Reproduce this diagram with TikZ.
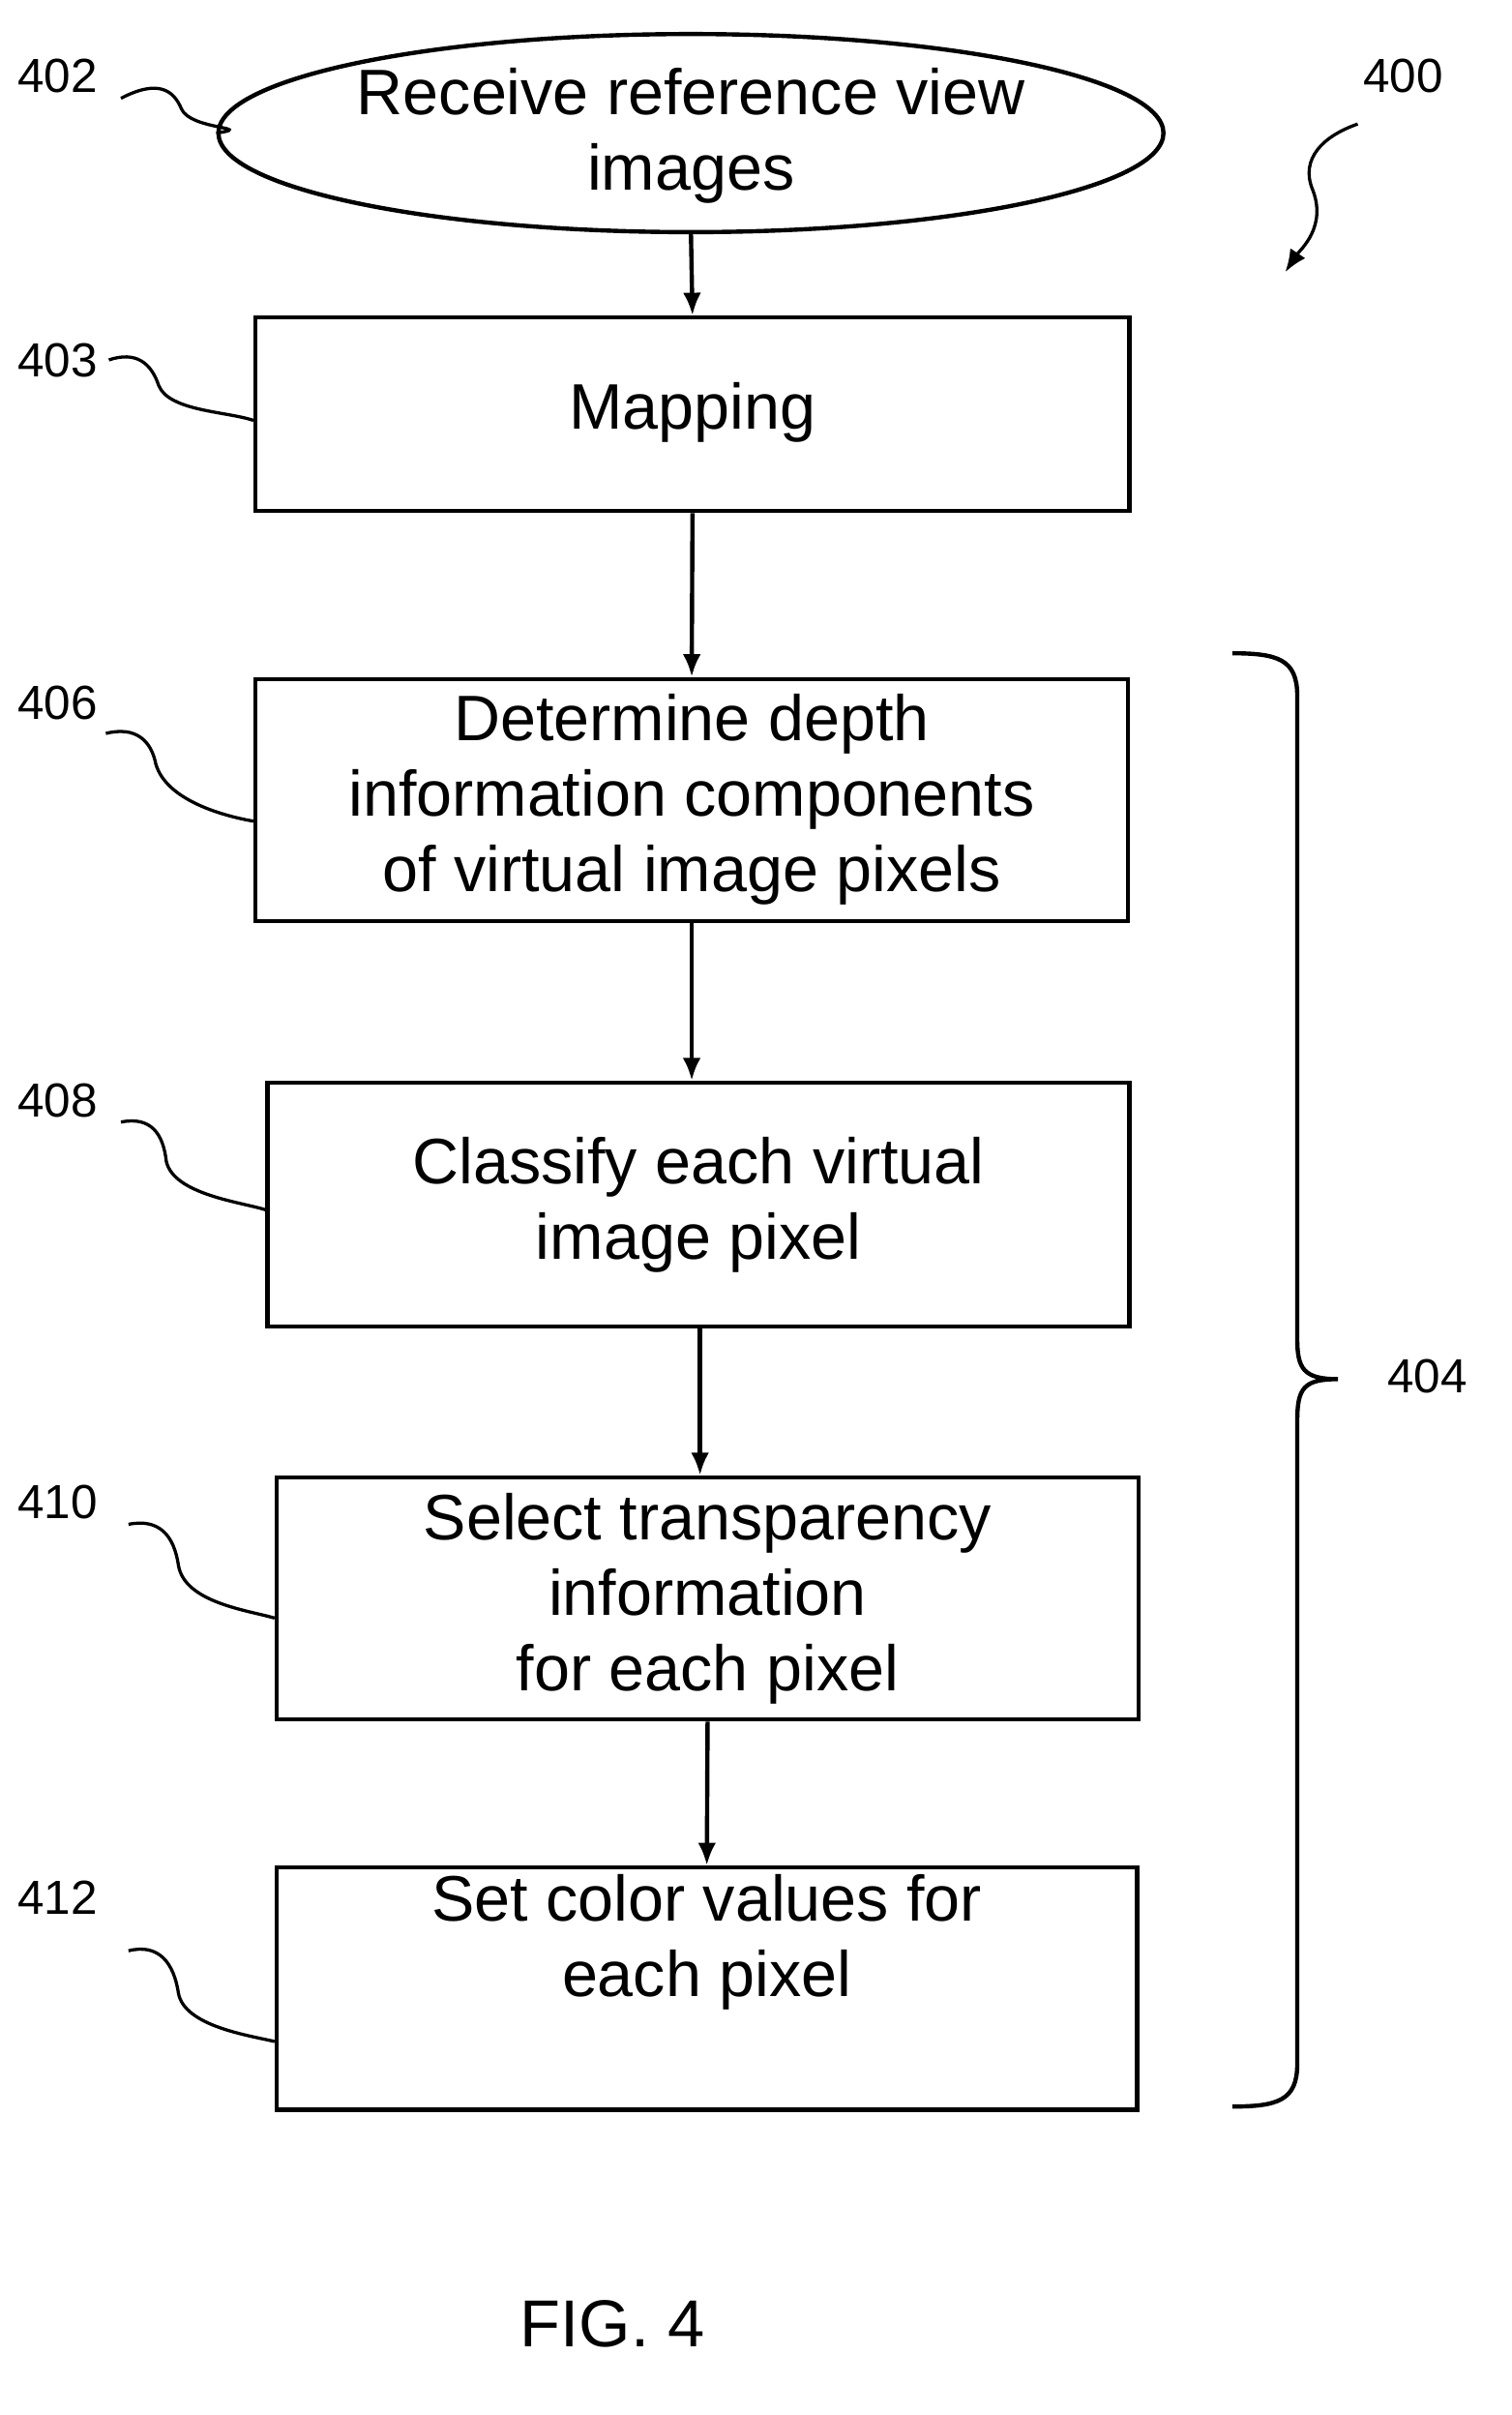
\documentclass[tikz,border=0pt]{standalone}
\usepackage{fontspec}
\setmainfont{Liberation Sans}
\usetikzlibrary{shapes.geometric,arrows.meta}
\begin{document}
\begin{tikzpicture}[x=0.1cm,y=-0.1cm,
 box/.style={draw,line width=8pt,rectangle,align=center,inner sep=0pt,font=\fontsize{121}{142}\selectfont},
 lab/.style={font=\fontsize{90}{100}\selectfont},
 ar/.style={line width=8pt,-{Latex[length=1.5cm,width=1.2cm]}},
 lead/.style={line width=6pt}]
\useasboundingbox (0,0) rectangle (1000,1597);
\node[box,ellipse,minimum width=51.6cm,minimum height=11cm] (e) at (457,88) {\mbox{}\\[-1.6cm]Receive reference view\\images};
\node[box,minimum width=57.8cm,minimum height=12.8cm] (b3) at (458,274) {\mbox{}\\[-2.2cm]Mapping};
\node[box,minimum width=57.7cm,minimum height=16cm] (b6) at (457.5,529) {Determine depth\\information components\\of virtual image pixels};
\node[box,minimum width=57cm,minimum height=16.1cm] (b8) at (462,796.5) {Classify each virtual\\image pixel};
\node[box,minimum width=57cm,minimum height=16cm] (b10) at (468,1057) {Select transparency\\information\\for each pixel};
\node[box,minimum width=56.9cm,minimum height=16cm] (b12) at (467.5,1315) {Set color values for\\each pixel\\[2cm]};
\draw[ar] (e.south) -- (b3.north);
\draw[ar] (b3.south) -- (b6.north);
\draw[ar] (b6.south) -- (b6.south|-b8.north);
\draw[ar] (463,877) coordinate (c1) -- (c1|-b10.north);
\draw[ar] (b10.south) -- (b12.north);
% labels
\node[lab] (l402) at (38,50) {402};
\node[lab] (l403) at (38,238) {403};
\node[lab] (l406) at (38,465) {406};
\node[lab] (l408) at (38,728) {408};
\node[lab] (l410) at (38,993) {410};
\node[lab] (l412) at (38,1255) {412};
\node[lab] (l400) at (928,50) {400};
\node[lab] (l404) at (944,910) {404};
\draw[lead] (80,65) .. controls (105,52) and (115,60) .. (120,72) .. controls (126,86) and (170,84) .. (e.west);
\draw[lead] (72,238) .. controls (90,232) and (100,240) .. (105,255) .. controls (112,272) and (150,272) .. (b3.west|-0,278);
\draw[lead] (70,485) .. controls (90,480) and (100,490) .. (103,505) .. controls (110,530) and (150,540) .. (b6.west|-0,543);
\draw[lead] (80,742) .. controls (100,738) and (108,750) .. (110,768) .. controls (115,790) and (160,795) .. (b8.west|-0,800);
\draw[lead] (85,1008) .. controls (105,1004) and (115,1015) .. (118,1035) .. controls (122,1060) and (165,1065) .. (b10.west|-0,1070);
\draw[lead] (85,1290) .. controls (105,1285) and (115,1298) .. (118,1318) .. controls (122,1340) and (165,1346) .. (b12.west|-0,1350);
\coordinate (t400) at (850,180);
\draw[lead,-{Latex[length=1.5cm,width=1.2cm]}] (898,82) .. controls (875,90) and (860,105) .. (868,125) .. controls (878,150) and (860,165) .. (t400);
% brace
\draw[line width=8pt] (815,432) .. controls (845,432) and (858,436) .. (858,460) -- (858,885) .. controls (858,905) and (862,912) .. (885,912)
 (858,940) .. controls (858,918) and (862,912) .. (885,912)
 (858,940) -- (858,1365) .. controls (858,1389) and (845,1393) .. (815,1393);
\node[font=\fontsize{125}{140}\selectfont] (fig) at (405,1537) {FIG. 4};
\end{tikzpicture}
\end{document}
